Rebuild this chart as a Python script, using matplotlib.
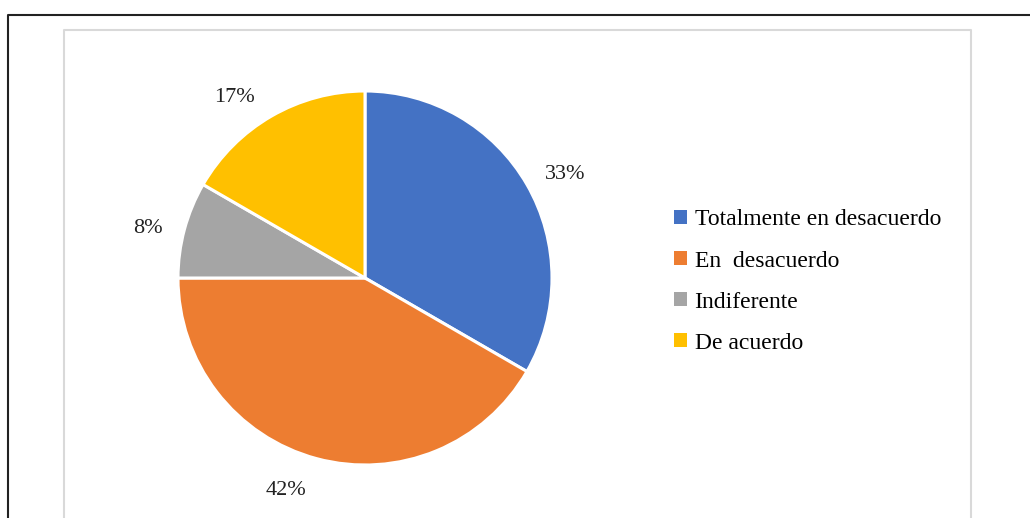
import matplotlib.pyplot as plt
from matplotlib.lines import Line2D
from matplotlib.patches import Patch

categories = ['Totalmente en desacuerdo', 'En  desacuerdo', 'Indiferente', 'De acuerdo']
values = [4, 5, 1, 2]
colors = ['#4472c4', '#ed7d31', '#a5a5a5', '#ffc000']

plt.rcParams['font.family'] = ['Liberation Serif', 'DejaVu Serif']

W, H = 1030, 518
fig = plt.figure(figsize=(W / 100, H / 100), dpi=100)

# pie axes, centre (365, 278) px, radius 187 px
cx, cy, r = 365, 278, 187
ax = fig.add_axes([(cx - r) / W, (H - cy - r) / H, 2 * r / W, 2 * r / H])
wedges, texts, autotexts = ax.pie(values, colors=colors, startangle=90, counterclock=False,
                                  autopct='%1.0f%%', pctdistance=1.2, radius=1,
                                  wedgeprops=dict(edgecolor='white', linewidth=2.2),
                                  textprops=dict(fontsize=16, color='#222222'))
# label placement like the original (Excel style)
label_pos = [(1.07, 0.555), (-0.42, -1.135), (-1.16, 0.265), (-0.70, 0.965)]
for t, p in zip(autotexts, label_pos):
    t.set_position(p)
ax.set_xlim(-1, 1)
ax.set_ylim(-1, 1)
ax.set_aspect('equal')

# outer black frame
fig.add_artist(Line2D([8 / W, 8 / W, 1], [0, 1 - 15 / H, 1 - 15 / H], color='#222222', lw=1.5))
# inner gray frame
fig.add_artist(Line2D([64 / W, 64 / W, 971 / W, 971 / W], [0, 1 - 30 / H, 1 - 30 / H, 0],
                      color='#d9d9d9', lw=1.5))

handles = [Patch(facecolor=c, edgecolor='none') for c in colors]
fig.legend(handles, categories, loc='upper left', bbox_to_anchor=(665 / W, 1 - 200 / H),
           frameon=False, fontsize=17, handlelength=0.55, handleheight=0.55,
           handletextpad=0.3, labelspacing=0.85, borderaxespad=0)

fig.savefig('out.png', dpi=100)
